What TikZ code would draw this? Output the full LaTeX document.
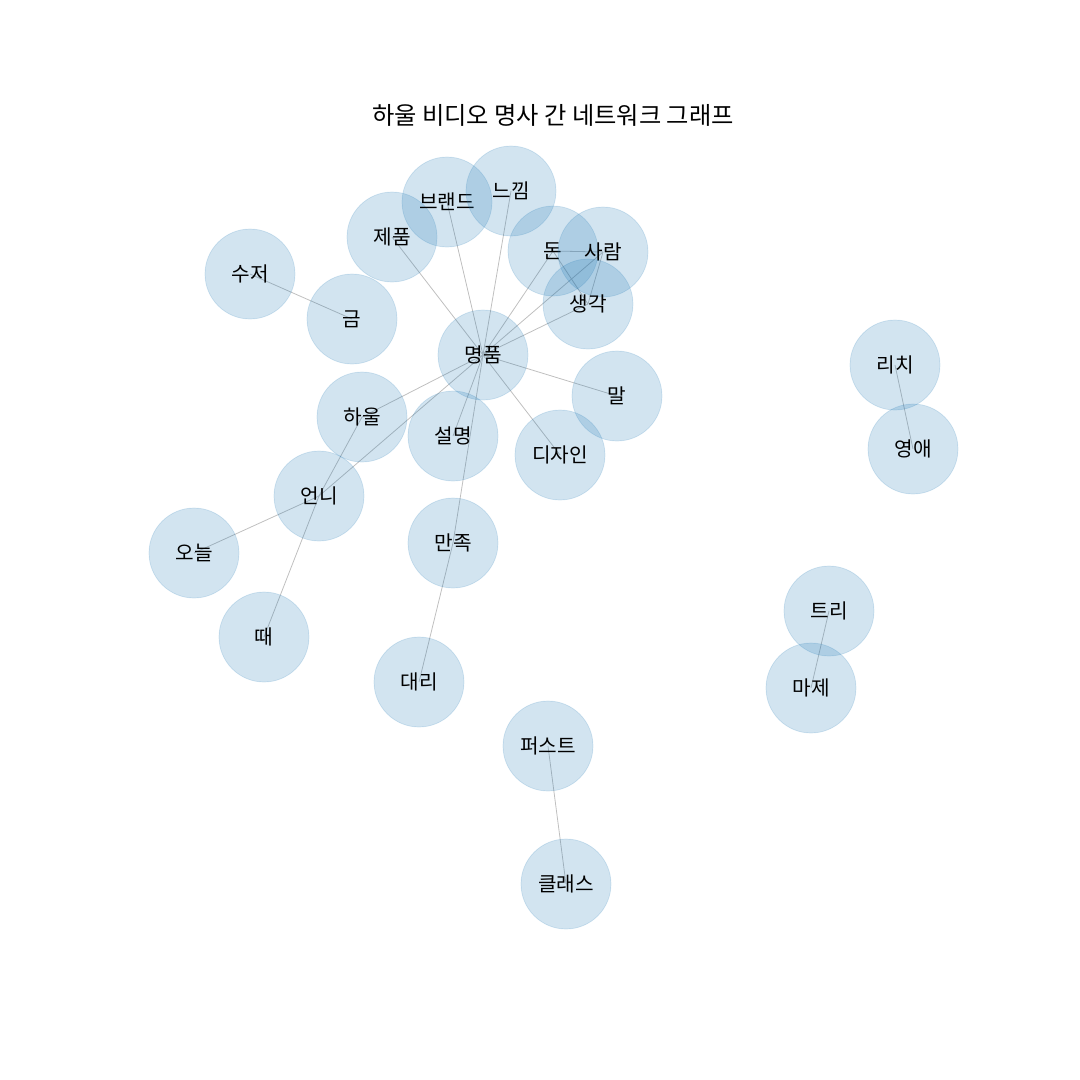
\documentclass[tikz,border=0pt]{standalone}
\usepackage{fontspec}
\setmainfont{Noto Sans CJK KR}
\usetikzlibrary{backgrounds}
\definecolor{nodeblue}{HTML}{1F78B4}
\begin{document}
\begin{tikzpicture}[x=0.02cm,y=-0.02cm,
  word/.style={circle,minimum size=1.8cm,inner sep=0pt,fill=nodeblue,fill opacity=0.2,draw=nodeblue,draw opacity=0.18,text opacity=1,font=\fontsize{11.5}{13}\selectfont},
  link/.style={draw=black!25,line width=0.45pt}]
\useasboundingbox (0,0) rectangle (1080,1080);
\node[font=\fontsize{13.8}{16}\selectfont](title) at (553,115) {하울 비디오 명사 간 네트워크 그래프};
\node[word](myeongpum) at (483,355) {명품};
\node[word](jepum) at (392,237) {제품};
\node[word](brand) at (447,202) {브랜드};
\node[word](neukkim) at (511,191) {느낌};
\node[word](don) at (553,251) {돈};
\node[word](saram) at (603,252) {사람};
\node[word](saenggak) at (588,304) {생각};
\node[word](sujeo) at (250,274) {수저};
\node[word](geum) at (352,319) {금};
\node[word](mal) at (617,396) {말};
\node[word](haul) at (362,417) {하울};
\node[word](seolmyeong) at (453,436) {설명};
\node[word](design) at (560,455) {디자인};
\node[word](eonni) at (319,496) {언니};
\node[word](oneul) at (194,553) {오늘};
\node[word](manjok) at (453,543) {만족};
\node[word](ttae) at (264,637) {때};
\node[word](daeri) at (419,682) {대리};
\node[word](first) at (548,746) {퍼스트};
\node[word](class) at (566,884) {클래스};
\node[word](rich) at (895,365) {리치};
\node[word](yeongae) at (913,449) {영애};
\node[word](tree) at (829,611) {트리};
\node[word](maje) at (811,688) {마제};
\begin{pgfonlayer}{background}
\draw[link] (myeongpum.center) -- (jepum.center);
\draw[link] (myeongpum.center) -- (brand.center);
\draw[link] (myeongpum.center) -- (neukkim.center);
\draw[link] (myeongpum.center) -- (don.center);
\draw[link] (myeongpum.center) -- (saram.center);
\draw[link] (myeongpum.center) -- (saenggak.center);
\draw[link] (myeongpum.center) -- (mal.center);
\draw[link] (myeongpum.center) -- (design.center);
\draw[link] (myeongpum.center) -- (seolmyeong.center);
\draw[link] (myeongpum.center) -- (manjok.center);
\draw[link] (myeongpum.center) -- (haul.center);
\draw[link] (myeongpum.center) -- (eonni.center);
\draw[link] (don.center) -- (saram.center);
\draw[link] (don.center) -- (saenggak.center);
\draw[link] (saram.center) -- (saenggak.center);
\draw[link] (sujeo.center) -- (geum.center);
\draw[link] (haul.center) -- (eonni.center);
\draw[link] (eonni.center) -- (ttae.center);
\draw[link] (eonni.center) -- (oneul.center);
\draw[link] (manjok.center) -- (daeri.center);
\draw[link] (first.center) -- (class.center);
\draw[link] (rich.center) -- (yeongae.center);
\draw[link] (tree.center) -- (maje.center);
\end{pgfonlayer}
\end{tikzpicture}
\end{document}
